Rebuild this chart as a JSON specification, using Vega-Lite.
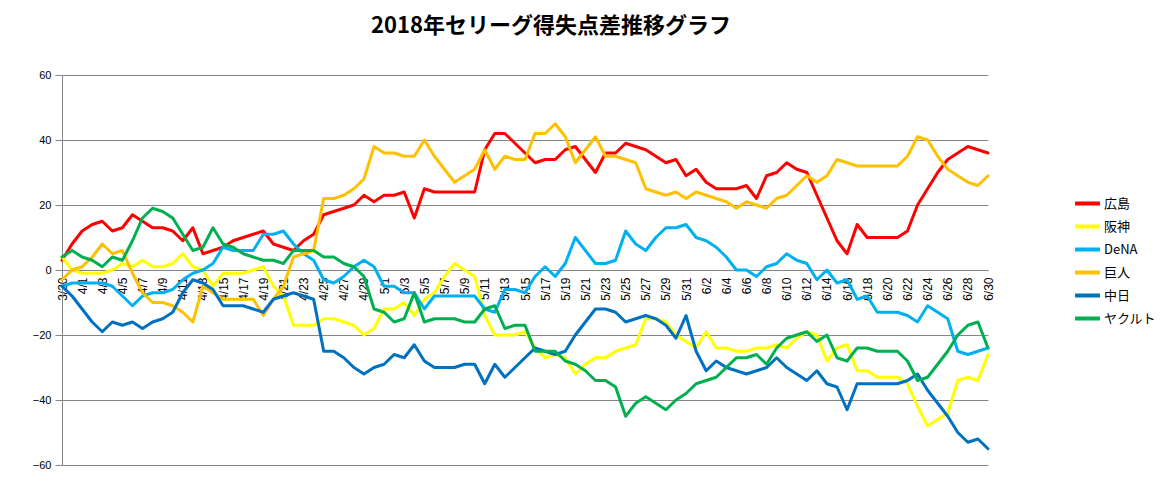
{
"$schema": "https://vega.github.io/schema/vega-lite/v6.json",
"width": 926, "height": 390,
"autosize": {"type": "none"},
"padding": {"left": 62, "top": 75, "right": 175, "bottom": 19},
"background": "white",
"title": {"text": "2018年セリーグ得失点差推移グラフ", "font": "Noto Sans CJK JP", "fontSize": 22, "fontWeight": "bold", "color": "black", "anchor": "middle", "frame": "group", "dx": 26, "offset": 31},
"config": {"view": {"stroke": null}},
"data": {"values": [
{"d":"3/30","広島":3,"阪神":4,"DeNA":-5,"巨人":-3,"中日":-5,"ヤクルト":4},
{"d":"3/31","広島":8,"阪神":0,"DeNA":-4,"巨人":0,"中日":-8,"ヤクルト":6},
{"d":"4/1","広島":12,"阪神":-1,"DeNA":-4,"巨人":1,"中日":-12,"ヤクルト":4},
{"d":"4/2","広島":14,"阪神":-1,"DeNA":-4,"巨人":4,"中日":-16,"ヤクルト":3},
{"d":"4/3","広島":15,"阪神":-1,"DeNA":-4,"巨人":8,"中日":-19,"ヤクルト":1},
{"d":"4/4","広島":12,"阪神":0,"DeNA":-5,"巨人":5,"中日":-16,"ヤクルト":4},
{"d":"4/5","広島":13,"阪神":2,"DeNA":-8,"巨人":6,"中日":-17,"ヤクルト":3},
{"d":"4/6","広島":17,"阪神":1,"DeNA":-11,"巨人":-1,"中日":-16,"ヤクルト":9},
{"d":"4/7","広島":15,"阪神":3,"DeNA":-8,"巨人":-7,"中日":-18,"ヤクルト":16},
{"d":"4/8","広島":13,"阪神":1,"DeNA":-7,"巨人":-10,"中日":-16,"ヤクルト":19},
{"d":"4/9","広島":13,"阪神":1,"DeNA":-7,"巨人":-10,"中日":-15,"ヤクルト":18},
{"d":"4/10","広島":12,"阪神":2,"DeNA":-6,"巨人":-11,"中日":-13,"ヤクルト":16},
{"d":"4/11","広島":9,"阪神":5,"DeNA":-3,"巨人":-13,"中日":-7,"ヤクルト":11},
{"d":"4/12","広島":13,"阪神":1,"DeNA":-1,"巨人":-16,"中日":-3,"ヤクルト":6},
{"d":"4/13","広島":5,"阪神":0,"DeNA":0,"巨人":-5,"中日":-4,"ヤクルト":7},
{"d":"4/14","広島":6,"阪神":-5,"DeNA":2,"巨人":-7,"中日":-6,"ヤクルト":13},
{"d":"4/15","広島":7,"阪神":-1,"DeNA":7,"巨人":-9,"中日":-11,"ヤクルト":8},
{"d":"4/16","広島":9,"阪神":-1,"DeNA":6,"巨人":-9,"中日":-11,"ヤクルト":7},
{"d":"4/17","広島":10,"阪神":-1,"DeNA":6,"巨人":-9,"中日":-11,"ヤクルト":5},
{"d":"4/18","広島":11,"阪神":0,"DeNA":6,"巨人":-9,"中日":-12,"ヤクルト":4},
{"d":"4/19","広島":12,"阪神":1,"DeNA":11,"巨人":-14,"中日":-13,"ヤクルト":3},
{"d":"4/20","広島":8,"阪神":-5,"DeNA":11,"巨人":-9,"中日":-9,"ヤクルト":3},
{"d":"4/21","広島":7,"阪神":-8,"DeNA":12,"巨人":-5,"中日":-8,"ヤクルト":2},
{"d":"4/22","広島":6,"阪神":-17,"DeNA":8,"巨人":4,"中日":-7,"ヤクルト":6},
{"d":"4/23","広島":9,"阪神":-17,"DeNA":5,"巨人":5,"中日":-8,"ヤクルト":6},
{"d":"4/24","広島":11,"阪神":-17,"DeNA":3,"巨人":6,"中日":-9,"ヤクルト":6},
{"d":"4/25","広島":17,"阪神":-15,"DeNA":-3,"巨人":22,"中日":-25,"ヤクルト":4},
{"d":"4/26","広島":18,"阪神":-15,"DeNA":-4,"巨人":22,"中日":-25,"ヤクルト":4},
{"d":"4/27","広島":19,"阪神":-16,"DeNA":-2,"巨人":23,"中日":-27,"ヤクルト":2},
{"d":"4/28","広島":20,"阪神":-17,"DeNA":1,"巨人":25,"中日":-30,"ヤクルト":1},
{"d":"4/29","広島":23,"阪神":-20,"DeNA":3,"巨人":28,"中日":-32,"ヤクルト":-2},
{"d":"4/30","広島":21,"阪神":-18,"DeNA":1,"巨人":38,"中日":-30,"ヤクルト":-12},
{"d":"5/1","広島":23,"阪神":-12,"DeNA":-5,"巨人":36,"中日":-29,"ヤクルト":-13},
{"d":"5/2","広島":23,"阪神":-12,"DeNA":-5,"巨人":36,"中日":-26,"ヤクルト":-16},
{"d":"5/3","広島":24,"阪神":-10,"DeNA":-7,"巨人":35,"中日":-27,"ヤクルト":-15},
{"d":"5/4","広島":16,"阪神":-14,"DeNA":-7,"巨人":35,"中日":-23,"ヤクルト":-7},
{"d":"5/5","広島":25,"阪神":-9,"DeNA":-12,"巨人":40,"中日":-28,"ヤクルト":-16},
{"d":"5/6","広島":24,"阪神":-7,"DeNA":-8,"巨人":35,"中日":-30,"ヤクルト":-15},
{"d":"5/7","広島":24,"阪神":-2,"DeNA":-8,"巨人":31,"中日":-30,"ヤクルト":-15},
{"d":"5/8","広島":24,"阪神":2,"DeNA":-8,"巨人":27,"中日":-30,"ヤクルト":-15},
{"d":"5/9","広島":24,"阪神":0,"DeNA":-8,"巨人":29,"中日":-29,"ヤクルト":-16},
{"d":"5/10","広島":24,"阪神":-2,"DeNA":-8,"巨人":31,"中日":-29,"ヤクルト":-16},
{"d":"5/11","広島":37,"阪神":-14,"DeNA":-12,"巨人":37,"中日":-35,"ヤクルト":-12},
{"d":"5/12","広島":42,"阪神":-20,"DeNA":-13,"巨人":31,"中日":-29,"ヤクルト":-11},
{"d":"5/13","広島":42,"阪神":-20,"DeNA":-6,"巨人":35,"中日":-33,"ヤクルト":-18},
{"d":"5/14","広島":39,"阪神":-20,"DeNA":-6,"巨人":34,"中日":-30,"ヤクルト":-17},
{"d":"5/15","広島":36,"阪神":-19,"DeNA":-7,"巨人":34,"中日":-27,"ヤクルト":-17},
{"d":"5/16","広島":33,"阪神":-24,"DeNA":-2,"巨人":42,"中日":-24,"ヤクルト":-25},
{"d":"5/17","広島":34,"阪神":-27,"DeNA":1,"巨人":42,"中日":-25,"ヤクルト":-25},
{"d":"5/18","広島":34,"阪神":-26,"DeNA":-2,"巨人":45,"中日":-26,"ヤクルト":-25},
{"d":"5/19","広島":37,"阪神":-27,"DeNA":2,"巨人":41,"中日":-25,"ヤクルト":-28},
{"d":"5/20","広島":38,"阪神":-32,"DeNA":10,"巨人":33,"中日":-20,"ヤクルト":-29},
{"d":"5/21","広島":34,"阪神":-29,"DeNA":6,"巨人":37,"中日":-16,"ヤクルト":-31},
{"d":"5/22","広島":30,"阪神":-27,"DeNA":2,"巨人":41,"中日":-12,"ヤクルト":-34},
{"d":"5/23","広島":36,"阪神":-27,"DeNA":2,"巨人":35,"中日":-12,"ヤクルト":-34},
{"d":"5/24","広島":36,"阪神":-25,"DeNA":3,"巨人":35,"中日":-13,"ヤクルト":-36},
{"d":"5/25","広島":39,"阪神":-24,"DeNA":12,"巨人":34,"中日":-16,"ヤクルト":-45},
{"d":"5/26","広島":38,"阪神":-23,"DeNA":8,"巨人":33,"中日":-15,"ヤクルト":-41},
{"d":"5/27","広島":37,"阪神":-15,"DeNA":6,"巨人":25,"中日":-14,"ヤクルト":-39},
{"d":"5/28","広島":35,"阪神":-15,"DeNA":10,"巨人":24,"中日":-15,"ヤクルト":-41},
{"d":"5/29","広島":33,"阪神":-16,"DeNA":13,"巨人":23,"中日":-17,"ヤクルト":-43},
{"d":"5/30","広島":34,"阪神":-20,"DeNA":13,"巨人":24,"中日":-21,"ヤクルト":-40},
{"d":"5/31","広島":29,"阪神":-22,"DeNA":14,"巨人":22,"中日":-14,"ヤクルト":-38},
{"d":"6/1","広島":31,"阪神":-24,"DeNA":10,"巨人":24,"中日":-25,"ヤクルト":-35},
{"d":"6/2","広島":27,"阪神":-19,"DeNA":9,"巨人":23,"中日":-31,"ヤクルト":-34},
{"d":"6/3","広島":25,"阪神":-24,"DeNA":7,"巨人":22,"中日":-28,"ヤクルト":-33},
{"d":"6/4","広島":25,"阪神":-24,"DeNA":4,"巨人":21,"中日":-30,"ヤクルト":-30},
{"d":"6/5","広島":25,"阪神":-25,"DeNA":0,"巨人":19,"中日":-31,"ヤクルト":-27},
{"d":"6/6","広島":26,"阪神":-25,"DeNA":0,"巨人":21,"中日":-32,"ヤクルト":-27},
{"d":"6/7","広島":22,"阪神":-24,"DeNA":-2,"巨人":20,"中日":-31,"ヤクルト":-26},
{"d":"6/8","広島":29,"阪神":-24,"DeNA":1,"巨人":19,"中日":-30,"ヤクルト":-29},
{"d":"6/9","広島":30,"阪神":-23,"DeNA":2,"巨人":22,"中日":-27,"ヤクルト":-24},
{"d":"6/10","広島":33,"阪神":-24,"DeNA":5,"巨人":23,"中日":-30,"ヤクルト":-21},
{"d":"6/11","広島":31,"阪神":-21,"DeNA":3,"巨人":26,"中日":-32,"ヤクルト":-20},
{"d":"6/12","広島":30,"阪神":-19,"DeNA":2,"巨人":29,"中日":-34,"ヤクルト":-19},
{"d":"6/13","広島":23,"阪神":-20,"DeNA":-3,"巨人":27,"中日":-31,"ヤクルト":-22},
{"d":"6/14","広島":16,"阪神":-28,"DeNA":0,"巨人":29,"中日":-35,"ヤクルト":-20},
{"d":"6/15","広島":9,"阪神":-24,"DeNA":-4,"巨人":34,"中日":-36,"ヤクルト":-27},
{"d":"6/16","広島":5,"阪神":-23,"DeNA":-3,"巨人":33,"中日":-43,"ヤクルト":-28},
{"d":"6/17","広島":14,"阪神":-31,"DeNA":-9,"巨人":32,"中日":-35,"ヤクルト":-24},
{"d":"6/18","広島":10,"阪神":-31,"DeNA":-8,"巨人":32,"中日":-35,"ヤクルト":-24},
{"d":"6/19","広島":10,"阪神":-33,"DeNA":-13,"巨人":32,"中日":-35,"ヤクルト":-25},
{"d":"6/20","広島":10,"阪神":-33,"DeNA":-13,"巨人":32,"中日":-35,"ヤクルト":-25},
{"d":"6/21","広島":10,"阪神":-33,"DeNA":-13,"巨人":32,"中日":-35,"ヤクルト":-25},
{"d":"6/22","広島":12,"阪神":-35,"DeNA":-14,"巨人":35,"中日":-34,"ヤクルト":-28},
{"d":"6/23","広島":20,"阪神":-42,"DeNA":-16,"巨人":41,"中日":-32,"ヤクルト":-34},
{"d":"6/24","広島":25,"阪神":-48,"DeNA":-11,"巨人":40,"中日":-37,"ヤクルト":-33},
{"d":"6/25","広島":30,"阪神":-46,"DeNA":-13,"巨人":35,"中日":-41,"ヤクルト":-29},
{"d":"6/26","広島":34,"阪神":-44,"DeNA":-15,"巨人":31,"中日":-45,"ヤクルト":-25},
{"d":"6/27","広島":36,"阪神":-34,"DeNA":-25,"巨人":29,"中日":-50,"ヤクルト":-20},
{"d":"6/28","広島":38,"阪神":-33,"DeNA":-26,"巨人":27,"中日":-53,"ヤクルト":-17},
{"d":"6/29","広島":37,"阪神":-34,"DeNA":-25,"巨人":26,"中日":-52,"ヤクルト":-16},
{"d":"6/30","広島":36,"阪神":-26,"DeNA":-24,"巨人":29,"中日":-55,"ヤクルト":-24}
]},
"transform": [{"fold": ["広島","阪神","DeNA","巨人","中日","ヤクルト"], "as": ["team","value"]}],
"mark": {"type": "line", "strokeWidth": 3, "strokeJoin": "round", "strokeCap": "round"},
"encoding": {
  "x": {"field": "d", "type": "ordinal", "sort": null,
    "scale": {"type": "point", "padding": 0},
    "axis": {"title": null, "orient": "bottom", "offset": -195, "zindex": 0,
      "values": ["3/30","4/1","4/3","4/5","4/7","4/9","4/11","4/13","4/15","4/17","4/19","4/21","4/23","4/25","4/27","4/29","5/1","5/3","5/5","5/7","5/9","5/11","5/13","5/15","5/17","5/19","5/21","5/23","5/25","5/27","5/29","5/31","6/2","6/4","6/6","6/8","6/10","6/12","6/14","6/16","6/18","6/20","6/22","6/24","6/26","6/28","6/30"],
      "labelAngle": 270, "labelAlign": "right", "labelBaseline": "middle", "labelPadding": 7,
      "labelFont": "Liberation Sans", "labelFontSize": 12, "labelColor": "black", "labelOverlap": false, "labelBound": false, "labelFlush": false,
      "ticks": false, "domainColor": "#868686", "grid": false}},
  "y": {"field": "value", "type": "quantitative",
    "scale": {"domain": [-60, 60], "nice": false, "zero": false},
    "axis": {"title": null, "values": [-60,-40,-20,0,20,40,60], "grid": true, "gridColor": "#868686", "gridWidth": 1, "zindex": 0,
      "domainColor": "#868686", "tickColor": "#868686", "tickSize": 7, "labelPadding": 4,
      "labelFont": "Liberation Sans", "labelFontSize": 11, "labelColor": "black"}},
  "color": {"field": "team", "type": "nominal",
    "scale": {"domain": ["広島","阪神","DeNA","巨人","中日","ヤクルト"], "range": ["#FF0000","#FFFF00","#00B0F0","#FFC000","#0070C0","#00B050"]},
    "legend": {"title": null, "orient": "none", "legendX": 1011, "legendY": 114,
      "symbolType": "stroke", "symbolStrokeWidth": 4, "symbolSize": 620, "rowPadding": 0,
      "labelFont": "Noto Sans CJK JP", "labelFontSize": 13, "labelColor": "black", "labelOffset": 2}}
}
}
